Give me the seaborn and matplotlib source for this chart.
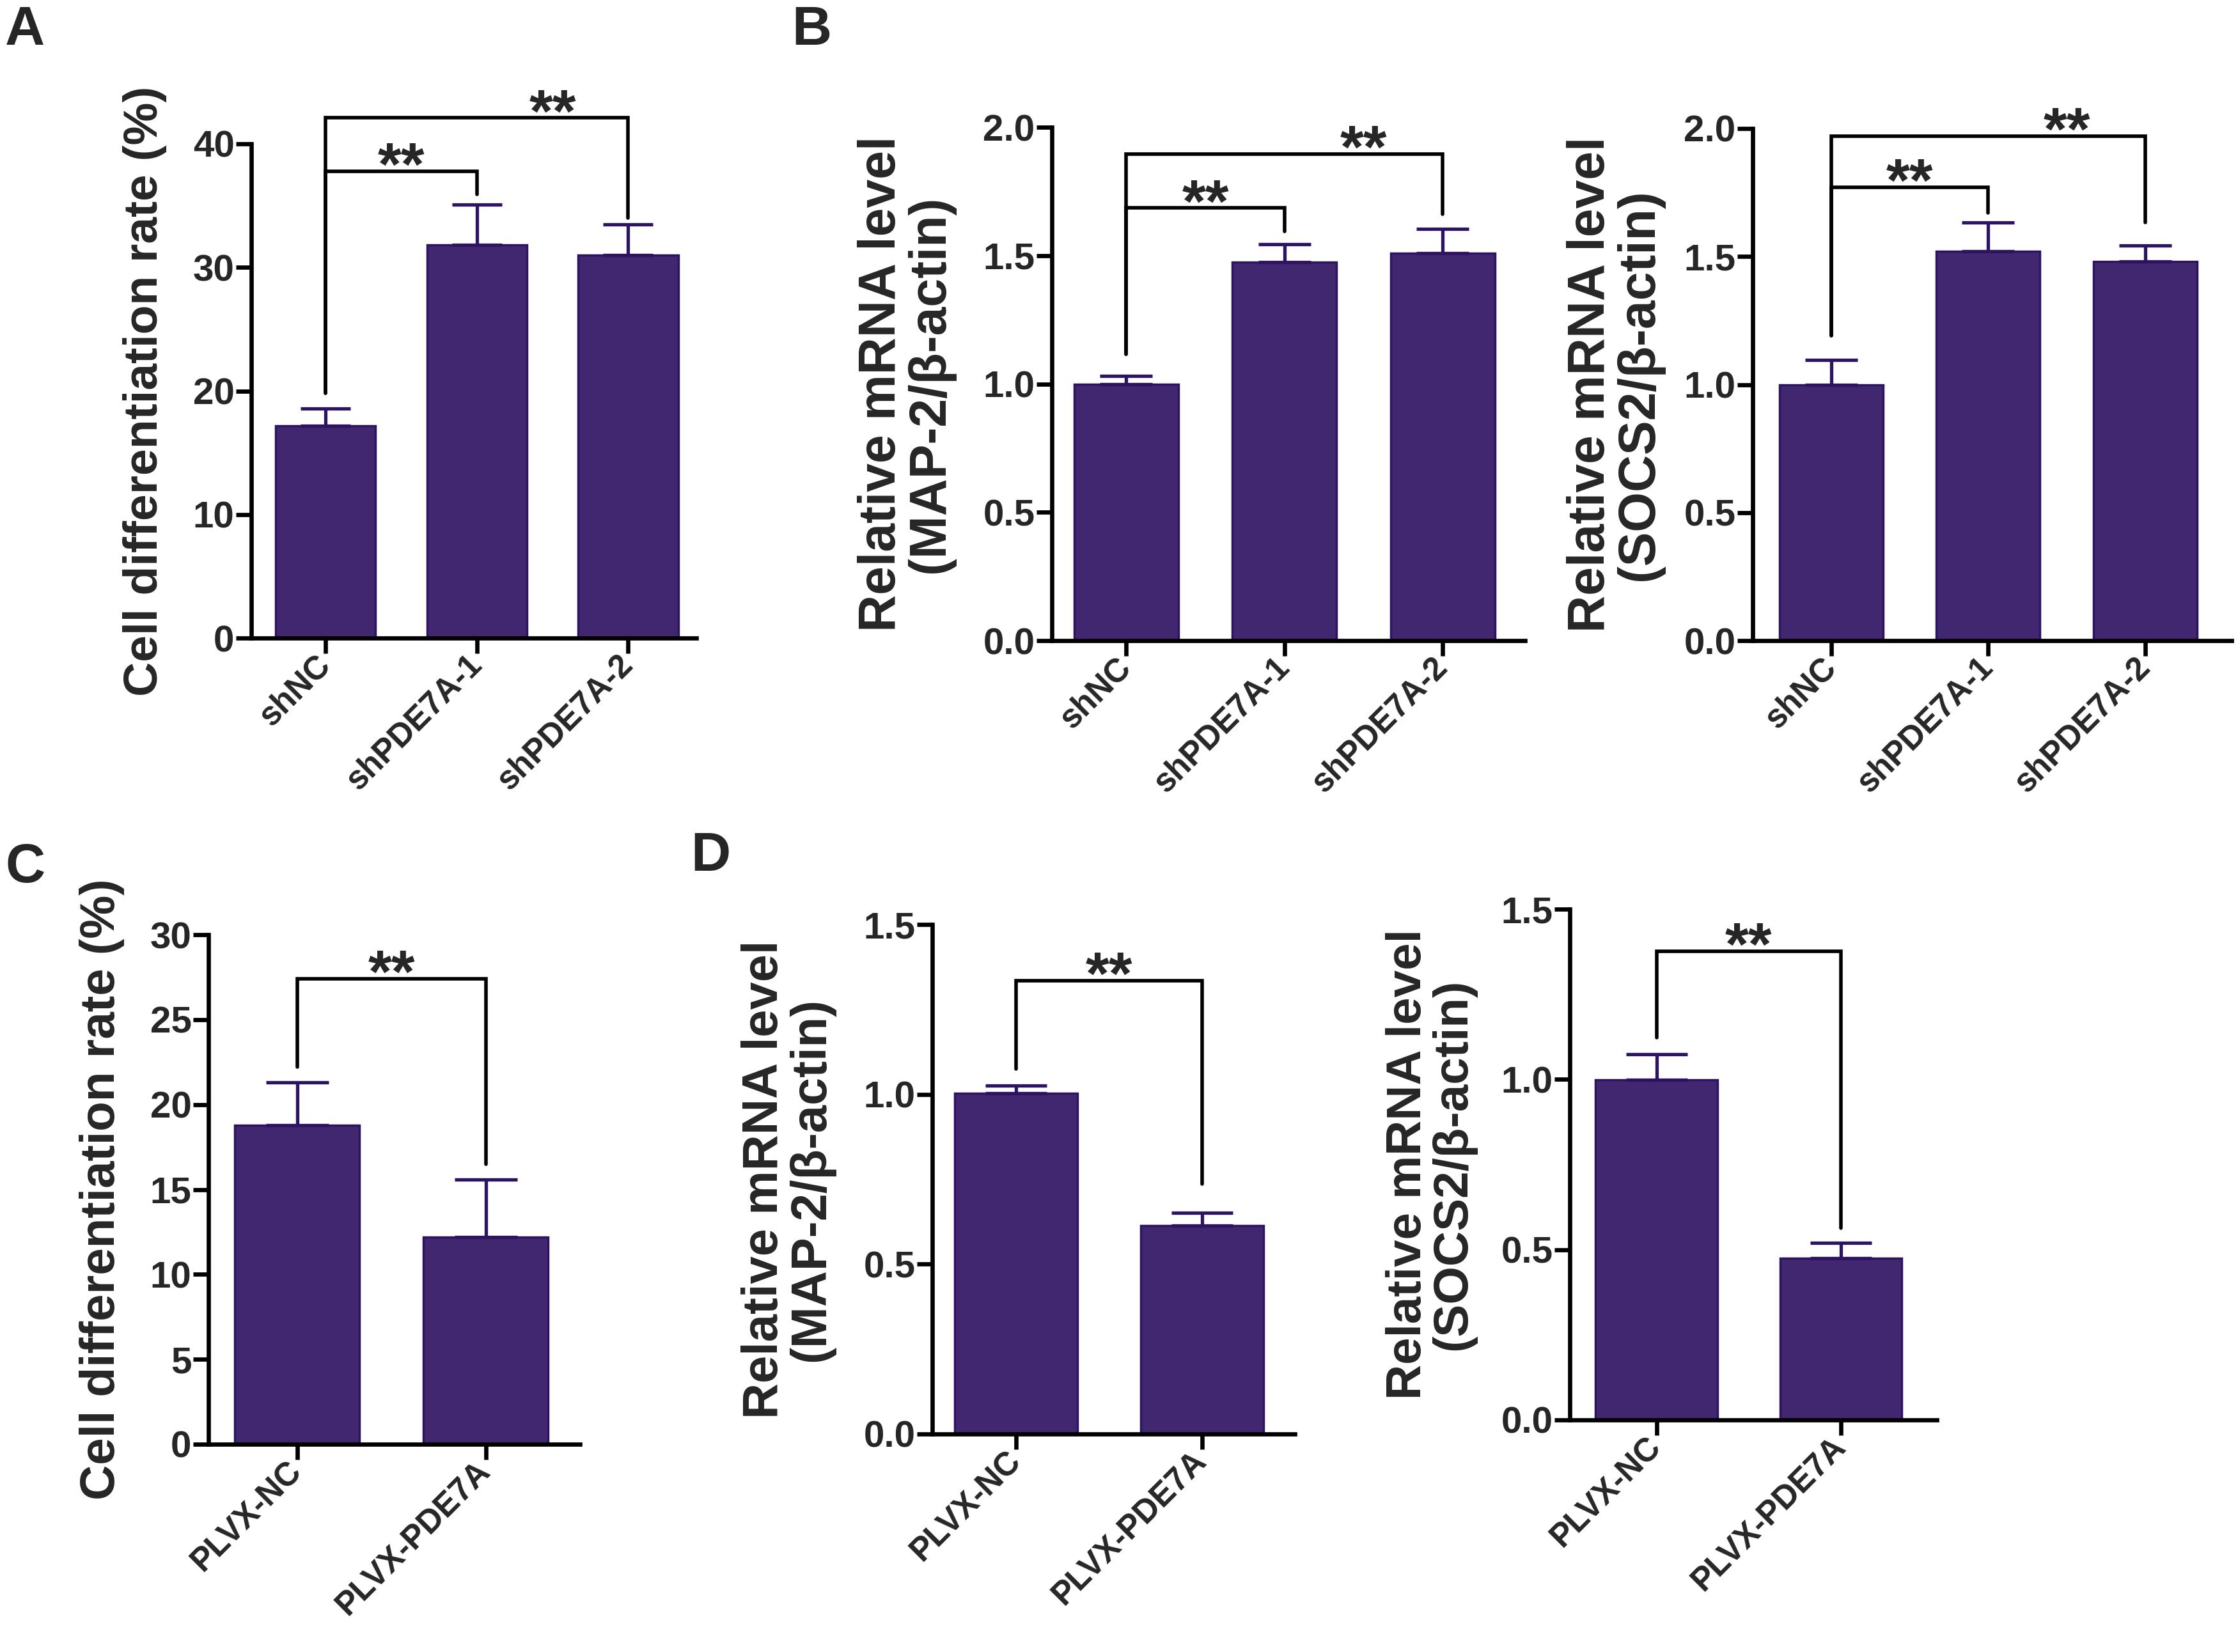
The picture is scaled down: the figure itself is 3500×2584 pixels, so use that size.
import numpy as np
import matplotlib
matplotlib.use("Agg")
import matplotlib.pyplot as plt
import seaborn as sns

# group names
sh_groups = ["shNC", "shPDE7A-1", "shPDE7A-2"]
plvx_groups = ["PLVX-NC", "PLVX-PDE7A"]

# A: differentiation rate after knockdown
diff_sh_mean = [17.2, 31.8, 31.0]
diff_sh_err = [1.4, 3.3, 2.5]
# B: relative mRNA after knockdown
map2_sh_mean = [1.00, 1.475, 1.51]
map2_sh_err = [0.03, 0.07, 0.095]
socs2_sh_mean = [1.00, 1.52, 1.48]
socs2_sh_err = [0.097, 0.113, 0.062]
# C: differentiation rate after overexpression
diff_plvx_mean = [18.8, 12.2]
diff_plvx_err = [2.5, 3.4]
# D: relative mRNA after overexpression
map2_plvx_mean = [1.004, 0.613]
map2_plvx_err = [0.021, 0.038]
socs2_plvx_mean = [0.998, 0.475]
socs2_plvx_err = [0.076, 0.045]

# significance brackets: (target bar, bracket height, right leg bottom); left leg bottom
diff_sh_brackets = [(1, 37.8, 35.9), (2, 42.1, 34.0)]
diff_sh_leg = 19.8
map2_sh_brackets = [(1, 1.685, 1.595), (2, 1.895, 1.662)]
map2_sh_leg = 1.115
socs2_sh_brackets = [(1, 1.77, 1.67), (2, 1.97, 1.633)]
socs2_sh_leg = 1.19
diff_plvx_brackets = [(1, 27.4, 16.5)]
diff_plvx_leg = 22.2
map2_plvx_brackets = [(1, 1.334, 0.735)]
map2_plvx_leg = 1.075
socs2_plvx_brackets = [(1, 1.377, 0.564)]
socs2_plvx_leg = 1.122

FILL = "#412670"
EDGE = "#2c1461"
W, H, DPI = 3500, 2584, 100

sns.set_style("ticks")
plt.rcParams["font.family"] = ["Liberation Sans", "DejaVu Sans"]
plt.rcParams["font.weight"] = "bold"

fig = plt.figure(figsize=(W / DPI, H / DPI), dpi=DPI, facecolor="white")


def yticks_fmt(ticks):
    if all(float(t).is_integer() for t in ticks):
        return [f"{int(t)}" for t in ticks]
    return [f"{t:.1f}" for t in ticks]


def bar_panel(box, groups, means, errs, yticks, ylabel, label_x, xlim,
              brackets, left_leg, ylabel_size=54):
    left, top, right, bottom = box
    ax = fig.add_axes([left / W, 1 - bottom / H, (right - left) / W, (bottom - top) / H])
    bw = 0.66
    sns.barplot(x=groups, y=means, color=FILL, edgecolor=EDGE, linewidth=2.5,
                width=bw, errorbar=None, saturation=1, ax=ax)
    # half-bar cap width, in points
    px_per_unit = (right - left) / (xlim[1] - xlim[0])
    cap = 0.25 * bw * px_per_unit * 72 / DPI
    ax.errorbar(np.arange(len(means)), means, yerr=[np.zeros(len(errs)), errs],
                fmt="none", ecolor=EDGE, elinewidth=3.8, capsize=cap,
                capthick=3.8, zorder=3)
    for tgt, y, right_bottom in brackets:
        ax.plot([0, 0, tgt, tgt], [left_leg, y, y, right_bottom], color="black",
                lw=4, clip_on=False, solid_joinstyle="miter")
        ax.annotate("**", xy=(tgt - 0.5, y), xytext=(0, -15),
                    textcoords="offset points", ha="center", va="baseline",
                    fontsize=68, fontweight="bold", annotation_clip=False)
    ax.set_xlim(*xlim)
    ax.set_ylim(yticks[0], yticks[-1])
    ax.set_yticks(yticks)
    ax.set_yticklabels(yticks_fmt(yticks), fontsize=42, fontweight="bold")
    ax.set_xticks(range(len(groups)))
    ax.set_xticklabels(groups, rotation=45, ha="right", va="center",
                       rotation_mode="anchor", fontsize=37, fontweight="bold")
    ax.set_xlabel("")
    ax.set_ylabel(ylabel, fontsize=ylabel_size, fontweight="bold",
                  multialignment="center", linespacing=1.0)
    ax.yaxis.set_label_coords(label_x, 0.5)
    sns.despine(ax=ax)
    for s in ("left", "bottom"):
        ax.spines[s].set_linewidth(4.8)
        ax.spines[s].set_color("black")
    ax.tick_params(axis="both", direction="out", length=17, width=4.8,
                   color="black", pad=2)
    ax.tick_params(axis="x", pad=8)
    ax.set_facecolor("white")
    return ax


bar_panel((393, 225, 1089, 998), sh_groups, diff_sh_mean, diff_sh_err,
          [0, 10, 20, 30, 40], "Cell differentiation rate (%)", -0.19,
          (-0.49, 2.45), diff_sh_brackets, diff_sh_leg)
bar_panel((1645, 199, 2385, 1002), sh_groups, map2_sh_mean, map2_sh_err,
          [0.0, 0.5, 1.0, 1.5, 2.0], "Relative mRNA level\n(MAP-2/\u03b2-actin)", -0.205,
          (-0.47, 2.52), map2_sh_brackets, map2_sh_leg, ylabel_size=58)
bar_panel((2741, 201, 3490, 1002), sh_groups, socs2_sh_mean, socs2_sh_err,
          [0.0, 0.5, 1.0, 1.5, 2.0], "Relative mRNA level\n(SOCS2/\u03b2-actin)", -0.185,
          (-0.5, 2.55), socs2_sh_brackets, socs2_sh_leg, ylabel_size=58)
bar_panel((326, 1462, 907, 2259), plvx_groups, diff_plvx_mean, diff_plvx_err,
          [0, 5, 10, 15, 20, 25, 30], "Cell differentiation rate (%)", -0.225,
          (-0.47, 1.5), diff_plvx_brackets, diff_plvx_leg, ylabel_size=55)
bar_panel((1458, 1446, 2025, 2243), plvx_groups, map2_plvx_mean, map2_plvx_err,
          [0.0, 0.5, 1.0, 1.5], "Relative mRNA level\n(MAP-2/\u03b2-actin)", -0.27,
          (-0.45, 1.5), map2_plvx_brackets, map2_plvx_leg, ylabel_size=56)
bar_panel((2455, 1422, 3029, 2221), plvx_groups, socs2_plvx_mean, socs2_plvx_err,
          [0.0, 0.5, 1.0, 1.5], "Relative mRNA level\n(SOCS2/\u03b2-actin)", -0.255,
          (-0.47, 1.52), socs2_plvx_brackets, socs2_plvx_leg, ylabel_size=55)

# panel letters
for letter, px, py in [("A", 8, 8), ("B", 1238, 8), ("C", 8, 1318), ("D", 1080, 1300)]:
    fig.text(px / W, 1 - py / H, letter, fontsize=62, fontweight="heavy",
             ha="left", va="top")

fig.savefig("out.png", dpi=DPI, facecolor="white")
